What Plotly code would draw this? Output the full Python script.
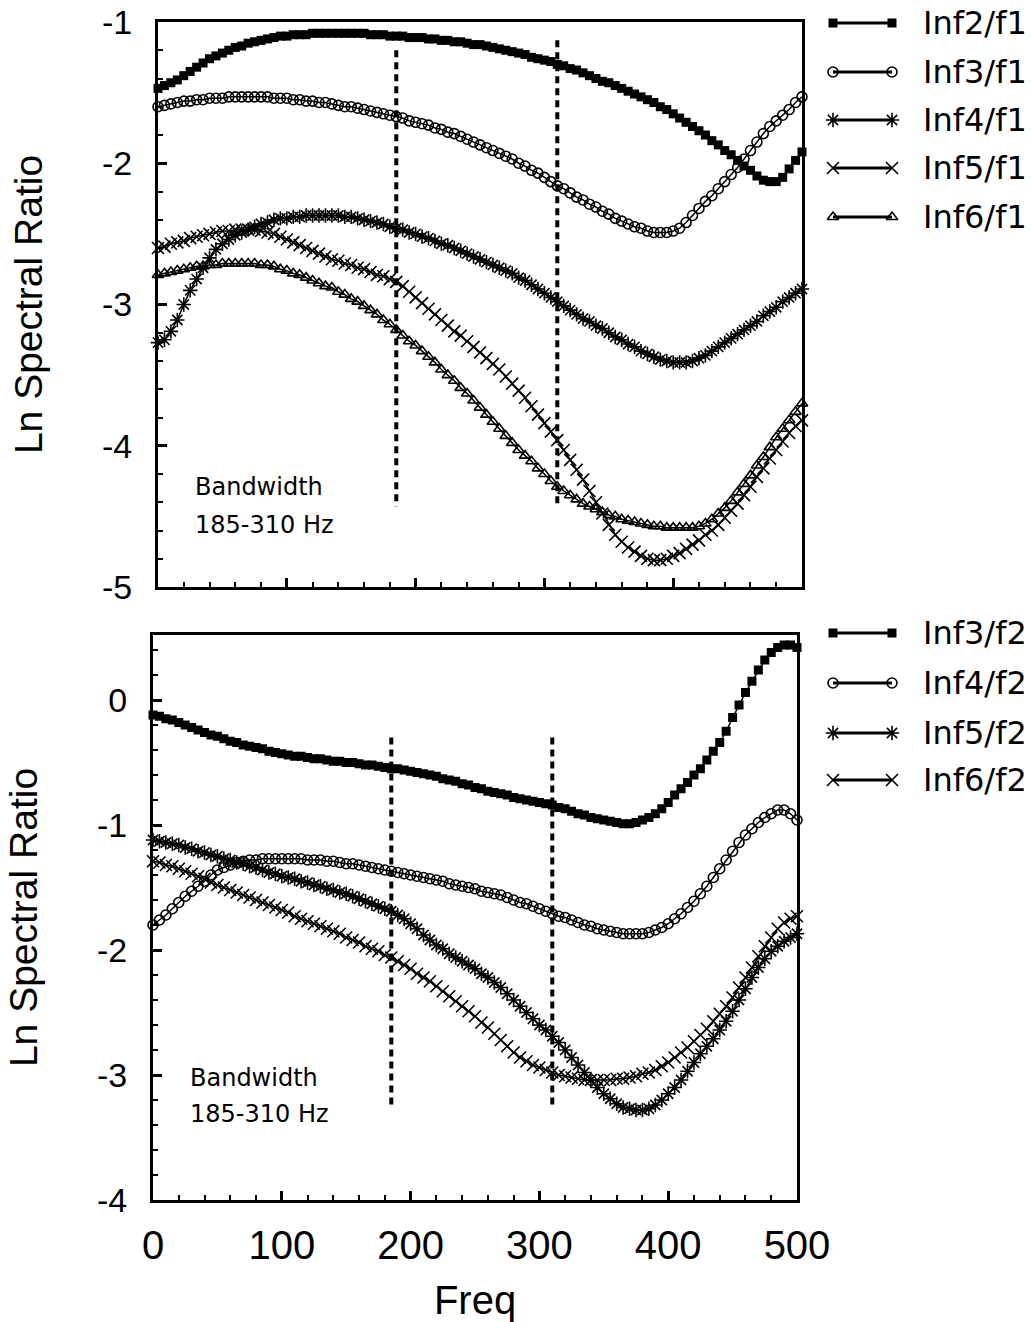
import plotly.graph_objects as go

# ---------------------------------------------------------------------------
# Data: log spectral ratios sampled every 5 Hz
# ---------------------------------------------------------------------------
freq = list(range(0, 501, 5))

# upper panel: ratios against f1
inf2_f1 = [
    -1.47, -1.45, -1.43, -1.41, -1.38, -1.35, -1.32, -1.29, -1.26, -1.24,
    -1.22, -1.20, -1.18, -1.17, -1.15, -1.14, -1.13, -1.12, -1.11, -1.10,
    -1.10, -1.09, -1.09, -1.09, -1.08, -1.08, -1.08, -1.08, -1.08, -1.08,
    -1.08, -1.08, -1.08, -1.09, -1.09, -1.09, -1.10, -1.10, -1.10, -1.11,
    -1.11, -1.11, -1.12, -1.12, -1.13, -1.13, -1.14, -1.14, -1.15, -1.16,
    -1.16, -1.17, -1.18, -1.19, -1.20, -1.21, -1.22, -1.23, -1.25, -1.26,
    -1.27, -1.28, -1.30, -1.31, -1.33, -1.34, -1.36, -1.38, -1.40, -1.42,
    -1.43, -1.45, -1.47, -1.49, -1.51, -1.53, -1.55, -1.57, -1.60, -1.62,
    -1.65, -1.68, -1.71, -1.74, -1.77, -1.80, -1.84, -1.87, -1.91, -1.94,
    -1.98, -2.02, -2.05, -2.09, -2.12, -2.13, -2.13, -2.10, -2.04, -1.98,
    -1.92,
]
inf3_f1 = [
    -1.60, -1.59, -1.58, -1.57, -1.56, -1.56, -1.55, -1.55, -1.54, -1.54,
    -1.54, -1.53, -1.53, -1.53, -1.53, -1.53, -1.53, -1.53, -1.54, -1.54,
    -1.54, -1.55, -1.55, -1.56, -1.56, -1.57, -1.57, -1.58, -1.59, -1.60,
    -1.60, -1.61, -1.62, -1.63, -1.64, -1.65, -1.66, -1.67, -1.68, -1.70,
    -1.71, -1.72, -1.73, -1.75, -1.76, -1.78, -1.79, -1.81, -1.83, -1.85,
    -1.87, -1.89, -1.91, -1.93, -1.95, -1.97, -2.00, -2.02, -2.05, -2.07,
    -2.10, -2.13, -2.16, -2.18, -2.21, -2.24, -2.26, -2.29, -2.31, -2.34,
    -2.36, -2.39, -2.41, -2.43, -2.45, -2.46, -2.48, -2.49, -2.49, -2.49,
    -2.48, -2.46, -2.42, -2.37, -2.32, -2.27, -2.23, -2.18, -2.13, -2.08,
    -2.03, -1.97, -1.91, -1.85, -1.79, -1.74, -1.70, -1.66, -1.62, -1.57,
    -1.53,
]
inf4_f1 = [
    -3.27, -3.25, -3.19, -3.11, -3.00, -2.90, -2.82, -2.74, -2.67, -2.61,
    -2.57, -2.54, -2.51, -2.49, -2.47, -2.45, -2.43, -2.42, -2.40, -2.39,
    -2.39, -2.38, -2.38, -2.37, -2.37, -2.37, -2.37, -2.37, -2.37, -2.38,
    -2.38, -2.39, -2.40, -2.41, -2.42, -2.43, -2.45, -2.46, -2.47, -2.49,
    -2.50, -2.52, -2.53, -2.55, -2.57, -2.58, -2.60, -2.62, -2.64, -2.66,
    -2.68, -2.70, -2.72, -2.74, -2.76, -2.78, -2.81, -2.83, -2.86, -2.89,
    -2.92, -2.95, -2.98, -3.01, -3.04, -3.07, -3.10, -3.12, -3.15, -3.17,
    -3.20, -3.23, -3.25, -3.28, -3.30, -3.33, -3.35, -3.37, -3.39, -3.40,
    -3.41, -3.41, -3.41, -3.40, -3.38, -3.36, -3.33, -3.30, -3.27, -3.24,
    -3.21, -3.18, -3.15, -3.12, -3.08, -3.05, -3.02, -2.98, -2.95, -2.92,
    -2.89,
]
inf5_f1 = [
    -2.60, -2.59, -2.57, -2.56, -2.55, -2.53, -2.52, -2.51, -2.50, -2.49,
    -2.48, -2.48, -2.47, -2.47, -2.47, -2.47, -2.48, -2.49, -2.50, -2.52,
    -2.54, -2.56, -2.58, -2.60, -2.62, -2.64, -2.66, -2.68, -2.69, -2.71,
    -2.72, -2.74, -2.75, -2.77, -2.79, -2.80, -2.82, -2.84, -2.87, -2.91,
    -2.95, -2.99, -3.03, -3.07, -3.11, -3.15, -3.19, -3.22, -3.26, -3.30,
    -3.34, -3.38, -3.42, -3.46, -3.51, -3.56, -3.61, -3.66, -3.72, -3.78,
    -3.84, -3.90, -3.96, -4.03, -4.10, -4.17, -4.24, -4.32, -4.40, -4.48,
    -4.56, -4.63, -4.68, -4.72, -4.75, -4.78, -4.80, -4.81, -4.81, -4.80,
    -4.78, -4.76, -4.73, -4.70, -4.67, -4.63, -4.60, -4.56, -4.51, -4.46,
    -4.41, -4.35, -4.29, -4.22, -4.16, -4.09, -4.03, -3.97, -3.91, -3.86,
    -3.82,
]
inf6_f1 = [
    -2.79, -2.78, -2.77, -2.76, -2.75, -2.74, -2.73, -2.73, -2.72, -2.72,
    -2.71, -2.71, -2.71, -2.71, -2.71, -2.71, -2.72, -2.72, -2.73, -2.75,
    -2.76, -2.78, -2.79, -2.81, -2.83, -2.85, -2.87, -2.88, -2.91, -2.93,
    -2.96, -2.98, -3.01, -3.04, -3.07, -3.11, -3.14, -3.18, -3.22, -3.26,
    -3.29, -3.33, -3.37, -3.41, -3.46, -3.50, -3.54, -3.59, -3.63, -3.68,
    -3.73, -3.78, -3.83, -3.88, -3.93, -3.98, -4.03, -4.07, -4.11, -4.16,
    -4.20, -4.25, -4.29, -4.32, -4.35, -4.38, -4.41, -4.43, -4.45, -4.47,
    -4.49, -4.50, -4.52, -4.53, -4.54, -4.55, -4.56, -4.57, -4.57, -4.58,
    -4.58, -4.58, -4.58, -4.58, -4.57, -4.55, -4.52, -4.48, -4.44, -4.39,
    -4.33, -4.27, -4.21, -4.14, -4.08, -4.01, -3.94, -3.88, -3.82, -3.76,
    -3.70,
]

# lower panel: ratios against f2
inf3_f2 = [
    -0.12, -0.13, -0.15, -0.16, -0.18, -0.20, -0.22, -0.24, -0.26, -0.28,
    -0.29, -0.31, -0.33, -0.34, -0.36, -0.37, -0.38, -0.39, -0.41, -0.42,
    -0.43, -0.44, -0.45, -0.45, -0.46, -0.47, -0.47, -0.48, -0.49, -0.49,
    -0.50, -0.50, -0.51, -0.52, -0.52, -0.53, -0.54, -0.55, -0.55, -0.56,
    -0.57, -0.58, -0.59, -0.60, -0.61, -0.63, -0.64, -0.65, -0.67, -0.68,
    -0.70, -0.71, -0.73, -0.74, -0.75, -0.76, -0.78, -0.79, -0.80, -0.81,
    -0.82, -0.83, -0.84, -0.86, -0.87, -0.89, -0.91, -0.92, -0.94, -0.95,
    -0.96, -0.97, -0.98, -0.99, -0.99, -0.98, -0.96, -0.94, -0.91, -0.87,
    -0.82, -0.76, -0.71, -0.66, -0.60, -0.55, -0.48, -0.41, -0.34, -0.25,
    -0.14, -0.04, 0.06, 0.15, 0.24, 0.32, 0.38, 0.42, 0.44, 0.44,
    0.42,
]
inf4_f2 = [
    -1.80, -1.76, -1.72, -1.67, -1.62, -1.57, -1.53, -1.49, -1.45, -1.40,
    -1.36, -1.34, -1.32, -1.30, -1.29, -1.28, -1.28, -1.27, -1.27, -1.27,
    -1.27, -1.27, -1.27, -1.27, -1.28, -1.28, -1.28, -1.29, -1.29, -1.30,
    -1.31, -1.31, -1.32, -1.33, -1.34, -1.35, -1.36, -1.37, -1.38, -1.39,
    -1.40, -1.41, -1.42, -1.43, -1.44, -1.45, -1.47, -1.48, -1.49, -1.50,
    -1.51, -1.53, -1.54, -1.55, -1.56, -1.58, -1.60, -1.62, -1.63, -1.65,
    -1.67, -1.69, -1.71, -1.73, -1.74, -1.76, -1.78, -1.80, -1.81, -1.83,
    -1.84, -1.85, -1.86, -1.87, -1.87, -1.87, -1.87, -1.86, -1.84, -1.82,
    -1.79, -1.75, -1.71, -1.66, -1.61, -1.55, -1.49, -1.42, -1.35, -1.28,
    -1.21, -1.14, -1.08, -1.03, -0.98, -0.94, -0.91, -0.88, -0.88, -0.91,
    -0.96,
]
inf5_f2 = [
    -1.12, -1.13, -1.14, -1.15, -1.16, -1.18, -1.19, -1.21, -1.22, -1.24,
    -1.25, -1.27, -1.28, -1.30, -1.31, -1.33, -1.34, -1.36, -1.38, -1.39,
    -1.41, -1.42, -1.43, -1.45, -1.46, -1.48, -1.49, -1.51, -1.52, -1.54,
    -1.55, -1.57, -1.59, -1.61, -1.63, -1.65, -1.67, -1.69, -1.72, -1.75,
    -1.79, -1.83, -1.88, -1.92, -1.96, -1.99, -2.03, -2.06, -2.09, -2.12,
    -2.15, -2.19, -2.22, -2.26, -2.30, -2.35, -2.40, -2.45, -2.50, -2.55,
    -2.60, -2.64, -2.69, -2.74, -2.80, -2.86, -2.92, -2.98, -3.04, -3.10,
    -3.15, -3.19, -3.23, -3.26, -3.27, -3.28, -3.28, -3.27, -3.24, -3.20,
    -3.15, -3.10, -3.04, -2.97, -2.90, -2.83, -2.77, -2.71, -2.64, -2.57,
    -2.49, -2.40, -2.31, -2.22, -2.14, -2.07, -2.01, -1.97, -1.93, -1.90,
    -1.87,
]
inf6_f2 = [
    -1.29, -1.30, -1.32, -1.33, -1.35, -1.37, -1.39, -1.41, -1.43, -1.46,
    -1.48, -1.50, -1.52, -1.54, -1.56, -1.58, -1.60, -1.62, -1.64, -1.66,
    -1.68, -1.70, -1.73, -1.75, -1.77, -1.79, -1.81, -1.83, -1.85, -1.87,
    -1.90, -1.92, -1.94, -1.97, -1.99, -2.01, -2.04, -2.06, -2.09, -2.12,
    -2.15, -2.19, -2.22, -2.25, -2.29, -2.33, -2.37, -2.41, -2.45, -2.49,
    -2.53, -2.58, -2.62, -2.67, -2.72, -2.77, -2.82, -2.86, -2.89, -2.92,
    -2.94, -2.96, -2.98, -3.00, -3.01, -3.02, -3.03, -3.04, -3.04, -3.04,
    -3.04, -3.04, -3.03, -3.03, -3.02, -3.01, -2.99, -2.98, -2.96, -2.93,
    -2.90, -2.86, -2.82, -2.78, -2.73, -2.68, -2.63, -2.57, -2.51, -2.45,
    -2.38, -2.30, -2.22, -2.14, -2.05, -1.97, -1.90, -1.83, -1.78, -1.75,
    -1.73,
]

top_names = ["Inf2/f1", "Inf3/f1", "Inf4/f1", "Inf5/f1", "Inf6/f1"]
bottom_names = ["Inf3/f2", "Inf4/f2", "Inf5/f2", "Inf6/f2"]

# axis ticks (hyphen-minus labels)
top_yticks = [-5, -4, -3, -2, -1]
top_ytext = ["-5", "-4", "-3", "-2", "-1"]
bottom_yticks = [-4, -3, -2, -1, 0]
bottom_ytext = ["-4", "-3", "-2", "-1", "0"]
freq_ticks = [0, 100, 200, 300, 400, 500]

# analysis band (Hz) and the vertical extent of its marker lines per panel
band_edges = [185, 310]
band_span_top = [[-1.20, -4.43], [-1.13, -4.44]]
band_span_bottom = [[-0.30, -3.26], [-0.30, -3.26]]
band_label = ["Bandwidth", "185-310 Hz"]

# ---------------------------------------------------------------------------
# Styling
# ---------------------------------------------------------------------------
W, H = 1031, 1322
INK = "black"
TICK_FONT = "Liberation Sans, Arial, sans-serif"
TEXT_FONT = "DejaVu Sans, Verdana, sans-serif"

marker_styles = {
    "square": dict(symbol="square", size=9, color=INK, line=dict(width=0)),
    "circle": dict(symbol="circle-open", size=10, color=INK, line=dict(width=1.6)),
    "star": dict(symbol="asterisk-open", size=12, color=INK, line=dict(width=1.6)),
    "cross": dict(symbol="x-thin-open", size=12, color=INK, line=dict(width=1.6)),
    "triangle": dict(symbol="triangle-up-open", size=10, color=INK, line=dict(width=1.6)),
}

top_series = [
    (top_names[0], inf2_f1, "square"),
    (top_names[1], inf3_f1, "circle"),
    (top_names[2], inf4_f1, "star"),
    (top_names[3], inf5_f1, "cross"),
    (top_names[4], inf6_f1, "triangle"),
]
bottom_series = [
    (bottom_names[0], inf3_f2, "square"),
    (bottom_names[1], inf4_f2, "circle"),
    (bottom_names[2], inf5_f2, "star"),
    (bottom_names[3], inf6_f2, "cross"),
]

fig = go.Figure()

for name, vals, sty in top_series:
    fig.add_trace(go.Scatter(
        x=freq, y=vals, name=name, mode="lines+markers",
        line=dict(color=INK, width=1.5), marker=marker_styles[sty],
        cliponaxis=False, showlegend=False, xaxis="x", yaxis="y",
    ))

for name, vals, sty in bottom_series:
    fig.add_trace(go.Scatter(
        x=freq, y=vals, name=name, mode="lines+markers",
        line=dict(color=INK, width=1.5), marker=marker_styles[sty],
        cliponaxis=False, showlegend=False, xaxis="x2", yaxis="y2",
    ))

# dashed band limits
for edge, span in zip(band_edges, band_span_top):
    fig.add_shape(type="line", xref="x", yref="y", x0=edge, x1=edge,
                  y0=span[0], y1=span[1],
                  line=dict(color=INK, width=4, dash="7px,5px"))
for edge, span in zip(band_edges, band_span_bottom):
    fig.add_shape(type="line", xref="x2", yref="y2", x0=edge, x1=edge,
                  y0=span[0], y1=span[1],
                  line=dict(color=INK, width=4, dash="7px,5px"))

# band captions
for xr, yr, ys in (("x", "y", [-4.29, -4.56]), ("x2", "y2", [-3.02, -3.31])):
    for text, yv in zip(band_label, ys):
        fig.add_annotation(x=27, y=yv, xref=xr, yref=yr, text=text,
                           showarrow=False, xanchor="left", yanchor="middle",
                           font=dict(family=TEXT_FONT, size=24, color=INK))

# ---------------------------------------------------------------------------
# Hand-built legends (marker - line - marker keys) on a pixel overlay axis
# ---------------------------------------------------------------------------
key_x0, key_x1, key_text_x = 833, 892, 921
legend_rows = [
    (top_series, [23, 72, 120, 168, 217]),
    (bottom_series, [633, 683, 733, 780]),
]
for series, rows in legend_rows:
    for (name, _vals, sty), yrow in zip(series, rows):
        fig.add_trace(go.Scatter(
            x=[key_x0, key_x1], y=[yrow, yrow], mode="lines+markers",
            line=dict(color=INK, width=3), marker=marker_styles[sty],
            showlegend=False, hoverinfo="skip", cliponaxis=False,
            xaxis="x3", yaxis="y3",
        ))
        fig.add_annotation(x=key_text_x, y=yrow, xref="x3", yref="y3",
                           text=name, showarrow=False, xanchor="left",
                           yanchor="middle",
                           font=dict(family=TEXT_FONT, size=32, color=INK))

# ---------------------------------------------------------------------------
# Axes
# ---------------------------------------------------------------------------
def xfrac(px):
    return px / W


def yfrac(px):
    return 1 - px / H


common_x = dict(
    range=[0, 500], tickmode="array", tickvals=freq_ticks,
    ticks="inside", ticklen=9, tickwidth=3, tickcolor=INK,
    minor=dict(dtick=20, tick0=0, ticks="inside", ticklen=5, tickwidth=2,
               tickcolor=INK),
    showline=True, linewidth=3, linecolor=INK, mirror=True,
    showgrid=False, zeroline=False, automargin=False, fixedrange=True,
)
common_y = dict(
    tickmode="array",
    ticks="inside", ticklen=9, tickwidth=3, tickcolor=INK,
    minor=dict(dtick=0.2, tick0=0, ticks="inside", ticklen=5, tickwidth=2,
               tickcolor=INK),
    showline=True, linewidth=3, linecolor=INK, mirror=True,
    showgrid=False, zeroline=False, automargin=False, fixedrange=True,
    tickfont=dict(family=TICK_FONT, size=34, color=INK),
    ticklabelstandoff=16,
    title=dict(text="Ln Spectral Ratio", standoff=48,
               font=dict(family=TICK_FONT, size=39, color=INK)),
)

fig.update_layout(
    width=W, height=H,
    margin=dict(l=0, r=0, t=0, b=0),
    paper_bgcolor="white", plot_bgcolor="rgba(0,0,0,0)",
    showlegend=False,
    xaxis=dict(common_x, domain=[xfrac(158), xfrac(802)], anchor="y",
               showticklabels=False),
    yaxis=dict(common_y, domain=[yfrac(587), yfrac(22)], anchor="x",
               range=[-5, -1], tickvals=top_yticks, ticktext=top_ytext),
    xaxis2=dict(common_x, domain=[xfrac(153), xfrac(797)], anchor="y2",
                tickfont=dict(family=TICK_FONT, size=40, color=INK),
                ticklabelstandoff=8,
                title=dict(text="Freq", standoff=22,
                           font=dict(family=TICK_FONT, size=40, color=INK))),
    yaxis2=dict(common_y, domain=[yfrac(1200), yfrac(635)], anchor="x2",
                range=[-4, 0.52], tickvals=bottom_yticks,
                ticktext=bottom_ytext),
    xaxis3=dict(domain=[0, 1], range=[0, W], visible=False, fixedrange=True),
    yaxis3=dict(domain=[0, 1], range=[H, 0], visible=False, fixedrange=True,
                anchor="x3"),
)

fig.write_html("out.html")
